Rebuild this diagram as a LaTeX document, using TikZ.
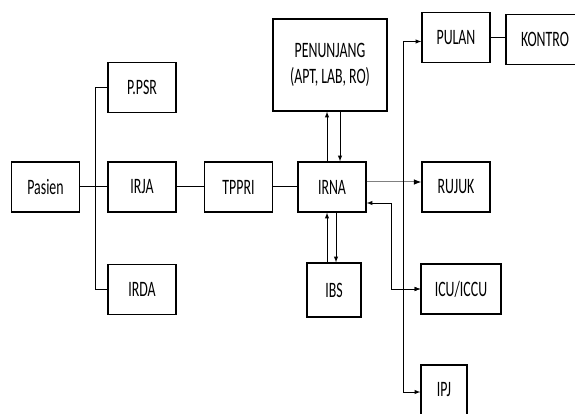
\documentclass[tikz,border=0pt]{standalone}
\usepackage{fontspec}
\setmainfont{Carlito}[FakeStretch=0.63]
\usetikzlibrary{positioning,arrows.meta}

\begin{document}
\begin{tikzpicture}[x=1pt, y=-1pt, node distance=96.5pt, auto]
    % Styles
    \tikzstyle{block} = [rectangle, draw, line width=1.3pt, minimum width=68pt, minimum height=50pt, align=center, font=\fontsize{22}{26}\selectfont]
    \tikzstyle{line} = [line width=1pt]
    \tikzstyle{arrow} = [line width=1pt,->,>=latex]
    \useasboundingbox (0,0) rectangle (575,414);

    % Nodes
    \node [block] (pasien) at (45.5,187) {Pasien};
    \node [block, right of=pasien] (irja) {IRJA};
    \node [block, above of=irja, node distance=99.5pt] (ppsr) {P.PSR};
    \node [block, below of=irja, node distance=102.5pt] (irda) {IRDA};
    \node [block, right of=irja] (tppri) {TPPRI};
    \node [block, right of=tppri, node distance=93.5pt] (irna) {IRNA};
    \node [block, above of=irna, node distance=122pt, minimum width=114pt, minimum height=92pt, xshift=-2pt] (penunjang) {PENUNJANG\\(APT, LAB, RO)};
    \node [block, below of=irna, node distance=103pt, minimum width=54pt, minimum height=54pt, xshift=2pt] (ibs) {IBS};
    \node [block, right of=irna, node distance=124pt] (rujuk) {RUJUK};
    \node [block, above of=rujuk, node distance=149.5pt] (pulan) {PULAN};
    \node [block, right of=pulan, node distance=95pt, minimum width=90pt, yshift=-2pt] (kontro) {\hspace*{-12pt}KONTRO};
    \node [block, below of=rujuk, node distance=102pt, minimum width=80pt, xshift=5pt] (icu) {ICU/ICCU};
    \node [block, below of=rujuk, node distance=203pt, minimum width=46pt, xshift=-12pt] (ipj) {IPJ};

    % Lines
    \draw [line] (pasien) -- (irja);
    \draw [line] (ppsr.west) -- ++(-12,0) coordinate (bus) |- (irda.west);
    \draw [line] (irja) -- (tppri);
    \draw [line] (tppri) -- (irna);
    \draw [line] (pulan) -- (pulan -| kontro.west);

    % Arrows
    \draw [line, gray, -{Latex[black]}] ([yshift=5pt]irna.east) -- ([yshift=5pt]rujuk.west);
    \coordinate (split) at ([yshift=5pt,xshift=-18pt]rujuk.west);
    \draw [arrow] (split) |- ([yshift=-4pt]pulan.west);
    \draw [arrow] (split) |- (icu.west);
    \draw [arrow] (split) |- ([yshift=-2pt]ipj.west);
    \draw [arrow, <->] ([yshift=-16pt]irna.east) -- ++(25,0) |- (icu.west);
    \draw [arrow] ([xshift=-5pt]irna.north) -- ([xshift=-5pt]irna.north |- penunjang.south);
    \draw [arrow] ([xshift=8pt]irna.north |- penunjang.south) -- ([xshift=8pt]irna.north);
    \draw [arrow] ([xshift=-5pt]irna.south |- ibs.north) -- ([xshift=-5pt]irna.south);
    \draw [arrow] ([xshift=4pt]irna.south) -- ([xshift=4pt]irna.south |- ibs.north);
\end{tikzpicture}
\end{document}
